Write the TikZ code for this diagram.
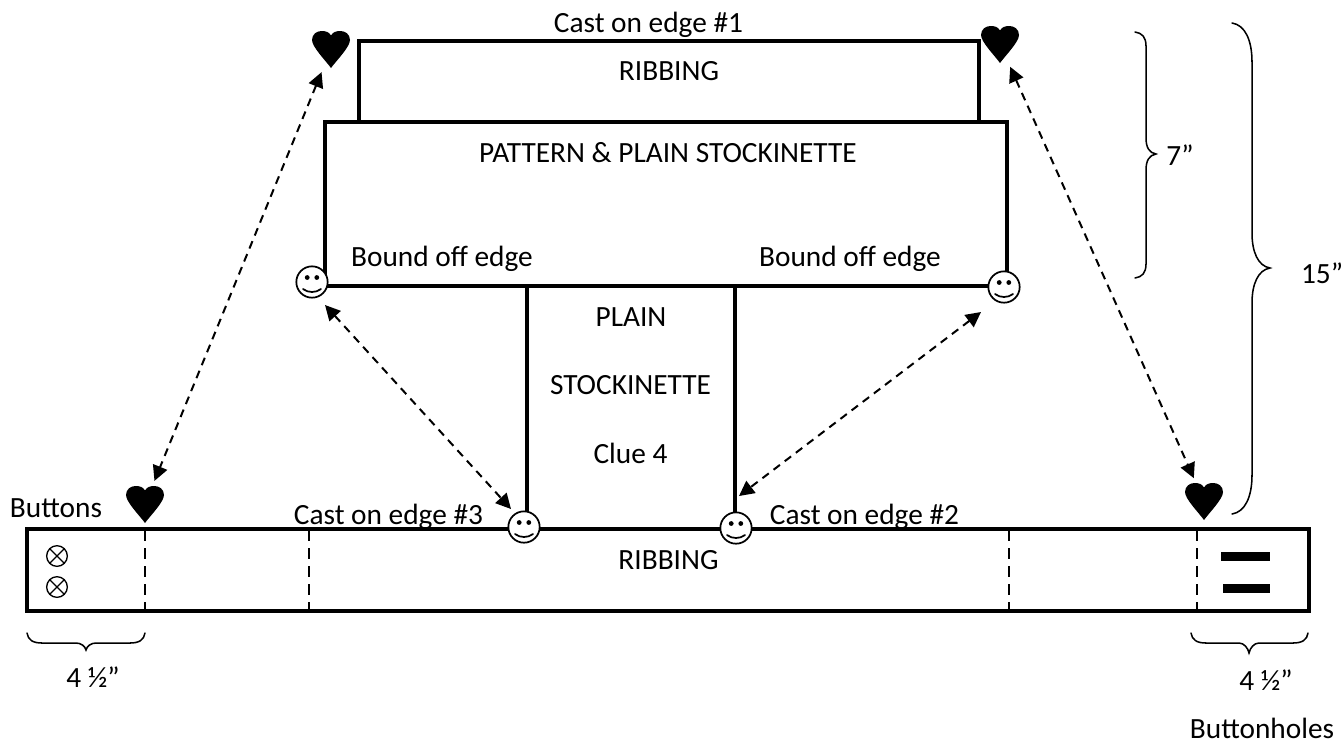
\documentclass[tikz,border=0pt]{standalone}
\usepackage{fontspec}
\setmainfont{Carlito}
\usetikzlibrary{calc,arrows.meta}
\tikzset{
  x=0.75pt,y=-0.75pt,
  panel/.style={line width=3pt,line cap=butt,line join=miter},
  label/.style={font=\fontsize{22}{26}\selectfont,text=black,inner sep=0pt,anchor=base},
  foldline/.style={line width=2.2pt,dash pattern=on 8pt off 5.5pt},
  link/.style={line width=1.5pt,dash pattern=on 6pt off 4.5pt,{Triangle[length=11.3pt,width=11.3pt]}-{Triangle[length=11.3pt,width=11.3pt]}},
  bracket/.style={line width=1.15pt,line cap=round},
  halo/.style={circle,minimum size=37.5pt,inner sep=0pt,outer sep=0pt},
  smile/.style={circle,draw=black,fill=white,line width=1.3pt,minimum size=23.5pt,inner sep=0pt,outer sep=0pt},
  knob/.style={circle,draw=black,fill=white,line width=1pt,minimum size=15.5pt,inner sep=0pt,outer sep=0pt},
  heartmark/.pic={\fill[black] (0,19) .. controls (-5,12) and (-19,-2) .. (-19,-9) .. controls (-19,-15) and (-14,-18) .. (-9.5,-18) .. controls (-5,-18) and (-2,-17) .. (0,-13.5) .. controls (2,-17) and (5,-18) .. (9.5,-18) .. controls (14,-18) and (19,-15) .. (19,-9) .. controls (19,-2) and (5,12) .. (0,19) -- cycle;},
  facemark/.pic={\fill[black] (-4.8,-4.5) circle[radius=2.4] (4.8,-4.5) circle[radius=2.4];
    \draw[black,line width=1.3pt,line cap=round] (-9,7) .. controls (-4,11) and (4,11) .. (9,7);},
  crossmark/.pic={\draw[black,line width=.9pt] (-7.3,-7.3) -- (7.3,7.3) (-7.3,7.3) -- (7.3,-7.3);}
}
\begin{document}
\begin{tikzpicture}
\useasboundingbox (0,0) rectangle (1344,744);
% labels that the lower edge overlaps
\node[label] (t10) at (388.5,524) {Cast on edge \#3};
\node[label] (t11) at (864.5,524) {Cast on edge \#2};
% panels
\draw[panel] (359,122) -- (359,40.5) -- (979,40.5) -- (979,122);
\draw[panel] (325,286) -- (325,122) -- (1007,122) -- (1007,286) -- cycle;
\draw[panel] (527,286) -- (527,529) (735,286) -- (735,529);
\draw[panel] (27,529) rectangle (1309,611);
% fold lines
\foreach \fx in {145,309,1009,1197}{\draw[foldline] (\fx,530) -- (\fx,614);}
% buttonholes
\fill[black] (1221,552) rectangle (1270,561);
\fill[black] (1223,584) rectangle (1270,593);
% buttons
\node[knob] (b1) at (57,556) {};
\node[knob] (b2) at (57,587) {};
\pic at (b1) {crossmark};
\pic at (b2) {crossmark};
% hearts
\node[halo] (h1) at (331,49) {};
\node[halo] (h2) at (1000,44) {};
\node[halo] (h3) at (145,504) {};
\node[halo] (h4) at (1204,501) {};
\foreach \h in {h1,h2,h3,h4}{\pic at (\h) {heartmark};}
% smileys
\node[smile] (s1) at (312,282) {};
\node[smile] (s2) at (1004,287) {};
\node[smile] (s3) at (524,527) {};
\node[smile] (s4) at (736,528) {};
\foreach \s in {s1,s2,s3,s4}{\pic at (\s) {facemark};}
% connectors
\draw[link] (h1) -- (h3);
\draw[link] (h2) -- (h4);
\draw[link] ($(s1)+(13,23)$) -- ($(s3)+(-13,-18)$);
\draw[link] ($(s2)+(-23,25)$) -- ($(s4)+(3,-32)$);
% braces
\draw[bracket] (1135,32) .. controls (1142,33) and (1146,37) .. (1146,46) -- (1146,138) .. controls (1146,147) and (1149,153) .. (1156,154) .. controls (1149,155) and (1146,161) .. (1146,170) -- (1146,264) .. controls (1146,273) and (1142,277) .. (1135,278);
\draw[bracket] (1232,23) .. controls (1245,25) and (1252,40) .. (1252,62) -- (1252,233) .. controls (1252,252) and (1258,266) .. (1270,268) .. controls (1258,270) and (1252,284) .. (1252,303) -- (1252,475) .. controls (1252,497) and (1245,512) .. (1232,514);
\draw[bracket] (27,633) .. controls (28,640) and (33,643) .. (42,643) -- (76,643) .. controls (81,643) and (85,646) .. (86,650) .. controls (87,646) and (91,643) .. (96,643) -- (130,643) .. controls (139,643) and (144,640) .. (145,633);
\draw[bracket] (1191,633) .. controls (1192,640) and (1197,643) .. (1206,643) -- (1239,643) .. controls (1244,643) and (1248,648) .. (1249,653) .. controls (1250,648) and (1254,643) .. (1259,643) -- (1293,643) .. controls (1302,643) and (1307,640) .. (1308,633);
% labels
\node[label] (t1) at (648.5,32) {Cast on edge \#1};
\node[label] (t2) at (669,80) {RIBBING};
\node[label] (t3) at (668,162) {PATTERN \& PLAIN STOCKINETTE};
\node[label] (t4) at (442,266) {Bound off edge};
\node[label] (t5) at (850,266) {Bound off edge};
\node[label] (t6) at (631,326) {PLAIN};
\node[label] (t7) at (630.5,394) {STOCKINETTE};
\node[label] (t8) at (630.5,463) {Clue 4};
\node[label] (t9) at (56,517) {Buttons};
\node[label] (t12) at (668.5,569) {RIBBING};
\node[label] (t13) at (1180,165) {7”};
\node[label] (t14) at (1322,283) {15”};
\node[label] (t15) at (93,687) {4 ½”};
\node[label] (t16) at (1266,690) {4 ½”};
\node[label] (t17) at (1262,738) {Buttonholes};
\end{tikzpicture}
\end{document}
